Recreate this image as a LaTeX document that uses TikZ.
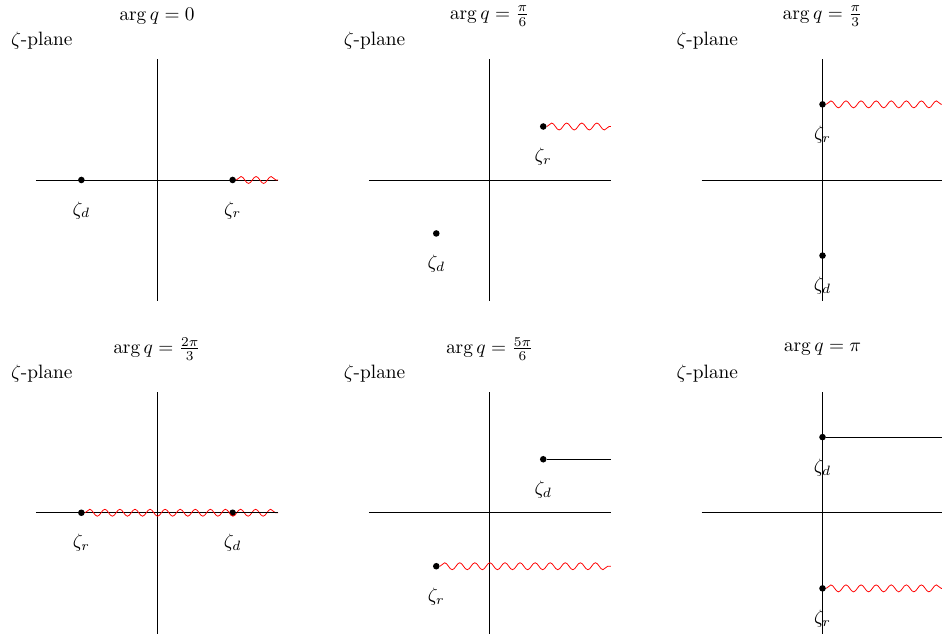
\documentclass[tikz,border=0pt]{standalone}
\usetikzlibrary{decorations.pathmorphing}
\begin{document}
\begin{tikzpicture}[x=0.55cm, y=0.55cm,
                    dot/.style={circle, fill=black, inner sep=0pt, minimum size=3.4pt},
                    wavecut/.style={red, decorate,
                      decoration={snake, amplitude=1.8pt, segment length=7.8pt}},
                    linecut/.style={black}]
  \useasboundingbox (-5.19,-15.17) rectangle (25.95,5.95);
  \foreach \n/\px/\py/\ang/\ttl in {1/0/0/0/0,
                                    2/11/0/45/\frac{\pi}{6},
                                    3/22/0/90/\frac{\pi}{3},
                                    4/0/-11/180/\frac{2\pi}{3},
                                    5/11/-11/225/\frac{5\pi}{6},
                                    6/22/-11/270/\pi}{
    \begin{scope}[shift={(\px,\py)}]
      % axes
      \coordinate (xl\n) at (-4,0);
      \coordinate (xr\n) at (4,0);
      \coordinate (yb\n) at (0,-4);
      \coordinate (yt\n) at (0,4);
      \draw (xl\n) -- (xr\n);
      \draw (yb\n) -- (yt\n);
      % titles
      \node[inner sep=1pt] (t\n) at (0,5.42) {$\arg q = \ttl$};
      \node[inner sep=1pt, anchor=west] (p\n) at (-4.9,4.6) {$\zeta$-plane};
      % points and cuts
      \node[dot] (r\n) at (\ang:2.5) {};
      \node[dot] (d\n) at ({\ang+180}:2.5) {};
      \draw[wavecut] (r\n) -- (r\n -| xr\n);
      \ifnum\n>3 \draw[linecut] (d\n) -- (d\n -| xr\n); \fi
      \node (lr\n) at ([yshift=-0.55cm]r\n.center) {$\zeta_r$};
      \node (ld\n) at ([yshift=-0.55cm]d\n.center) {$\zeta_d$};
    \end{scope}
  }
\end{tikzpicture}
\end{document}
